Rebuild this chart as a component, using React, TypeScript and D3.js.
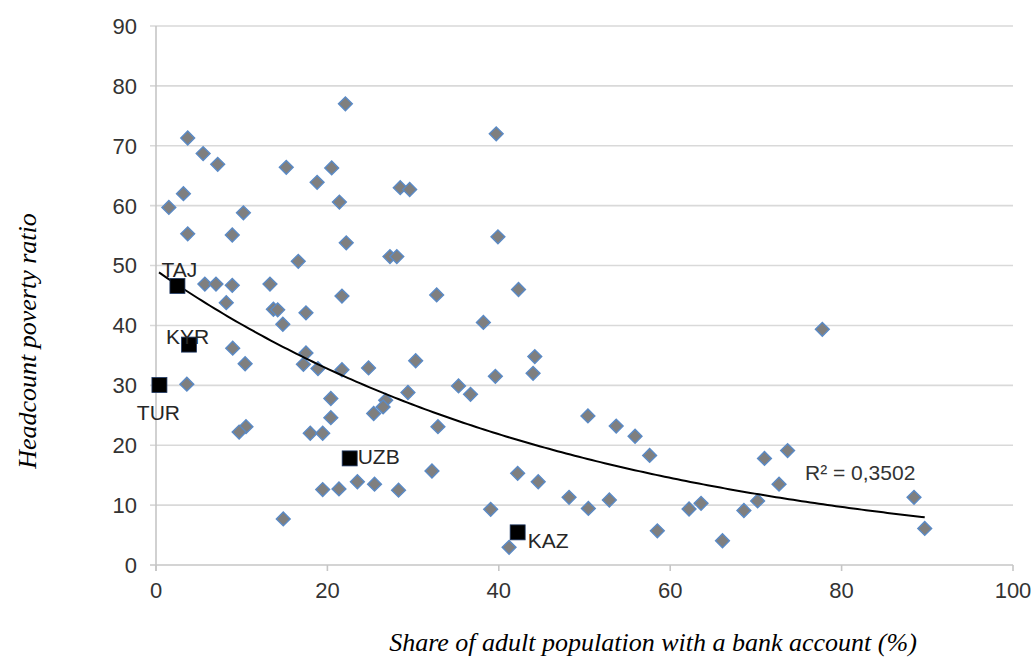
import React from "react";
import * as d3 from "d3";

// share of adults with a bank account (%) / headcount poverty ratio
const accountShare = [
  22.1, 3.7, 5.5, 7.2, 15.2, 20.5, 18.8, 28.5, 29.6, 3.2, 21.4, 1.5, 10.2, 3.7, 8.9, 22.2,
  27.3, 28.1, 16.6, 5.7, 7.0, 8.9, 13.3, 21.7, 8.2, 13.7, 14.2, 17.5, 14.8, 39.7, 39.9,
  32.75, 42.3, 38.2, 8.95, 10.4, 17.5, 17.2, 18.9, 21.7, 24.8, 30.3, 3.6, 20.4, 29.4, 26.8,
  26.5, 25.4, 20.4, 10.5, 9.7, 18.0, 19.45, 19.45, 21.35, 23.5, 25.5, 28.3, 14.85, 44.2,
  44.0, 39.6, 35.3, 36.7, 32.9, 32.2, 42.2, 44.6, 50.4, 53.7, 55.9, 57.6, 48.2, 50.45, 52.9,
  39.05, 41.2, 58.5, 62.2, 63.6, 77.75, 71.0, 73.7, 72.7, 70.2, 68.6, 66.1, 88.45, 89.7,
];
const povertyRatio = [
  77.0, 71.3, 68.7, 66.9, 66.4, 66.3, 63.9, 63.0, 62.7, 62.0, 60.6, 59.7, 58.8, 55.3, 55.1, 53.8,
  51.5, 51.5, 50.7, 46.9, 46.9, 46.7, 46.9, 44.9, 43.8, 42.7, 42.6, 42.1, 40.2, 72.0, 54.8,
  45.1, 46.0, 40.5, 36.2, 33.6, 35.4, 33.5, 32.8, 32.6, 32.9, 34.1, 30.2, 27.8, 28.8, 27.5,
  26.4, 25.3, 24.6, 23.1, 22.2, 22.0, 22.0, 12.6, 12.7, 13.9, 13.5, 12.5, 7.7, 34.8,
  32.0, 31.5, 29.9, 28.5, 23.1, 15.7, 15.3, 13.9, 24.9, 23.2, 21.5, 18.3, 11.3, 9.45, 10.85,
  9.3, 2.95, 5.7, 9.35, 10.3, 39.35, 17.8, 19.1, 13.5, 10.7, 9.1, 4.05, 11.3, 6.1,
];

// highlighted countries
const focusCodes = ["TAJ", "KYR", "TUR", "UZB", "KAZ"];
const focusShare = [2.5, 3.85, 0.4, 22.6, 42.2];
const focusPoverty = [46.6, 36.8, 30.05, 17.8, 5.45];

const xTicks = [0, 20, 40, 60, 80, 100];
const yTicks = [0, 10, 20, 30, 40, 50, 60, 70, 80, 90];

// exponential trendline y = a * e^(b x), as printed by the spreadsheet
const trendA = 49.2;
const trendB = -0.0203;
const trendRange = [0.35, 89.7];
const rSquaredLabel = "R² = 0,3502";

// label placement next to each highlighted square (px)
const labelOffset: Record<string, { dx: number; dy: number; anchor: string }> = {
  TAJ: { dx: -16, dy: -9, anchor: "start" },
  KYR: { dx: -23, dy: -1, anchor: "start" },
  TUR: { dx: -1, dy: 35, anchor: "middle" },
  UZB: { dx: 8, dy: 6, anchor: "start" },
  KAZ: { dx: 10, dy: 16, anchor: "start" },
};

const width = 1036;
const height = 659;
const margin = { top: 26, right: 23, bottom: 94, left: 156 };

const sans = "'Liberation Sans', Arial, sans-serif";
const serif = "'Liberation Serif', 'Times New Roman', serif";

export default function App() {
  const x = d3.scaleLinear().domain([0, 100]).range([margin.left, width - margin.right]);
  const y = d3.scaleLinear().domain([0, 90]).range([height - margin.bottom, margin.top]);

  const diamond = d3.symbol().type(d3.symbolDiamond2).size(122)();

  const trendXs = d3.range(trendRange[0], trendRange[1], 0.5).concat([trendRange[1]]);
  const trendPath = d3
    .line<number>()
    .x((d) => x(d))
    .y((d) => y(trendA * Math.exp(trendB * d)))(trendXs);

  const x0 = x(0);
  const y0 = y(0);

  return (
    <svg
      width={width}
      height={height}
      style={{ position: "absolute", left: 0, top: 0, background: "#fff" }}
    >
      {/* gridlines */}
      {yTicks.map((t) => (
        <line
          key={"g" + t}
          x1={x0 - 6}
          x2={x(100)}
          y1={y(t)}
          y2={y(t)}
          stroke={t === 0 ? "#c6c6c6" : "#d9d9d9"}
          strokeWidth={1.6}
        />
      ))}
      {/* y axis line */}
      <line x1={x0} x2={x0} y1={y(90)} y2={y0 + 6} stroke="#c6c6c6" strokeWidth={1.6} />
      {/* x ticks */}
      {xTicks.map((t) => (
        <line key={"xt" + t} x1={x(t)} x2={x(t)} y1={y0} y2={y0 + 6} stroke="#c6c6c6" strokeWidth={1.6} />
      ))}

      {/* tick labels */}
      {yTicks.map((t) => (
        <text
          key={"yl" + t}
          x={137}
          y={y(t)}
          dy="0.36em"
          textAnchor="end"
          fontFamily={sans}
          fontSize={22}
          fill="#333"
        >
          {t}
        </text>
      ))}
      {xTicks.map((t) => (
        <text
          key={"xl" + t}
          x={x(t)}
          y={y0 + 33}
          textAnchor="middle"
          fontFamily={sans}
          fontSize={22}
          fill="#333"
        >
          {t}
        </text>
      ))}

      {/* points */}
      {accountShare.map((v, i) => (
        <path
          key={"p" + i}
          d={diamond ?? ""}
          transform={`translate(${x(v)},${y(povertyRatio[i])})`}
          fill="#7f7f7f"
          stroke="#5a8ac6"
          strokeWidth={1.4}
        />
      ))}

      {/* trendline */}
      <path d={trendPath ?? ""} fill="none" stroke="#000" strokeWidth={2} />

      {/* highlighted countries */}
      {focusCodes.map((c, i) => {
        const cx = x(focusShare[i]);
        const cy = y(focusPoverty[i]);
        const o = labelOffset[c];
        return (
          <g key={c}>
            <rect x={cx - 7.5} y={cy - 7.5} width={15} height={15} fill="#000" stroke="#1f3864" strokeWidth={0.8} />
            <text
              x={cx + o.dx}
              y={cy + o.dy}
              textAnchor={o.anchor}
              fontFamily={sans}
              fontSize={21}
              fill="#262626"
            >
              {c}
            </text>
          </g>
        );
      })}

      {/* R squared */}
      <text x={805} y={480} fontFamily={sans} fontSize={21} fill="#333">
        {rSquaredLabel}
      </text>

      {/* axis titles */}
      <text
        x={653}
        y={651}
        textAnchor="middle"
        fontFamily={serif}
        fontStyle="italic"
        fontSize={26}
        fill="#000"
      >
        Share of adult population with a bank account (%)
      </text>
      <text
        transform="translate(36,341) rotate(-90)"
        textAnchor="middle"
        fontFamily={serif}
        fontStyle="italic"
        fontSize={26}
        fill="#000"
      >
        Headcount poverty ratio
      </text>
    </svg>
  );
}
